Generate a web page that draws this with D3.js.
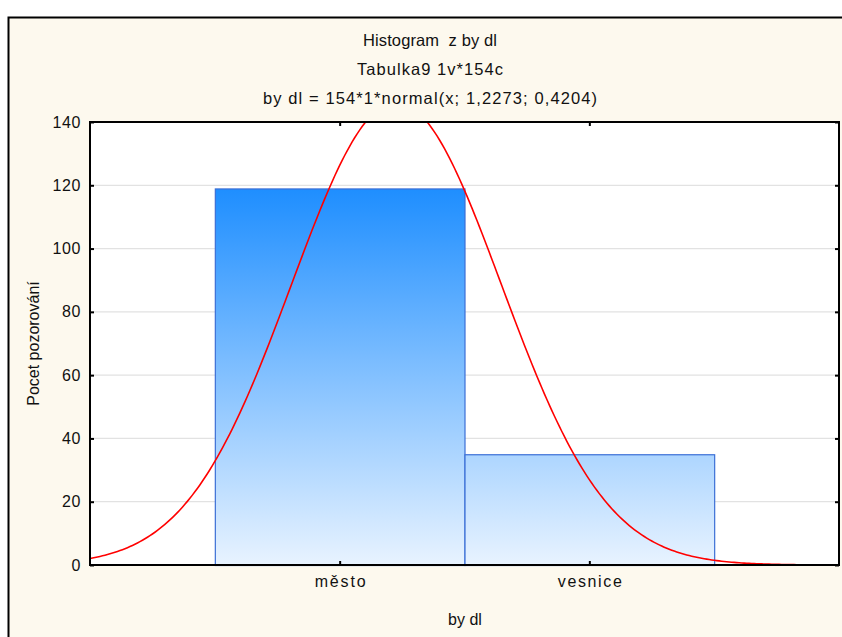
<!DOCTYPE html>
<html>
<head>
<meta charset="utf-8">
<script src="https://cdn.jsdelivr.net/npm/d3@7"></script>
<style>
  html, body { margin: 0; padding: 0; background: #ffffff; }
  svg { display: block; }
  text { font-family: "Liberation Sans", Arial, sans-serif; fill: #111; }
</style>
</head>
<body>
<svg id="chart" width="842" height="637"></svg>
<script>
// ---- data ----
const categories = ["město", "vesnice"];
const categoryPositions = [1, 2];
const counts = [119, 35];
const yTicks = [0, 20, 40, 60, 80, 100, 120, 140];
const titleLines = ["Histogram  z by dl", "Tabulka9 1v*154c", "by dl = 154*1*normal(x; 1,2273; 0,4204)"];
const normalN = 154, normalWidth = 1, normalMean = 1.2273, normalSd = 0.4204;
const xLabel = "by dl";
const yLabel = "Pocet pozorování";

(function () {
const svg = d3.select("#chart");
const W = 842, H = 637;
const m = {left: 90, top: 122, right: 842 - 839, bottom: 637 - 565};
const FONT = "Liberation Sans, Arial, sans-serif";

// background + frame
svg.append("rect").attr("x", 0).attr("y", 0).attr("width", W).attr("height", H).attr("fill", "#ffffff");
svg.append("rect").attr("x", 8.5).attr("y", 17.5).attr("width", W).attr("height", H)
  .attr("fill", "#fdf9ee").attr("stroke", "#000").attr("stroke-width", 2);

const x = d3.scaleLinear().domain([0, 3]).range([m.left, W - m.right]);
const y = d3.scaleLinear().domain([0, 140]).range([H - m.bottom, m.top]);

// plot area
svg.append("rect").attr("x", x(0)).attr("y", y(140)).attr("width", x(3) - x(0)).attr("height", y(0) - y(140))
  .attr("fill", "#ffffff");

// gridlines
svg.append("g").selectAll("line").data(yTicks.filter(d => d > 0 && d < 140)).join("line")
  .attr("x1", x(0)).attr("x2", x(3)).attr("y1", d => y(d)).attr("y2", d => y(d))
  .attr("stroke", "#e2e2e2").attr("stroke-width", 1.2);

// gradient
const defs = svg.append("defs");
const grad = defs.append("linearGradient").attr("id", "barGrad")
  .attr("gradientUnits", "userSpaceOnUse")
  .attr("x1", 0).attr("x2", 0).attr("y1", y(d3.max(counts))).attr("y2", y(0));
grad.append("stop").attr("offset", "0%").attr("stop-color", "#1e8eff");
grad.append("stop").attr("offset", "100%").attr("stop-color", "#e8f3ff");

defs.append("clipPath").attr("id", "plotClip").append("rect")
  .attr("x", x(0)).attr("y", y(140)).attr("width", x(3) - x(0)).attr("height", y(0) - y(140));

// bars
svg.append("g").selectAll("rect").data(counts).join("rect")
  .attr("x", (d, i) => x(categoryPositions[i] - 0.5) + 0.5)
  .attr("y", d => y(d) + 0.5)
  .attr("width", (d, i) => x(categoryPositions[i] + 0.5) - x(categoryPositions[i] - 0.5))
  .attr("height", d => y(0) - y(d))
  .attr("fill", "url(#barGrad)")
  .attr("stroke", "#3b6fd6").attr("stroke-width", 1.2);

// normal curve
const pts = d3.range(0, 3.0001, 0.01).map(v => [v,
  normalN * normalWidth * Math.exp(-0.5 * Math.pow((v - normalMean) / normalSd, 2)) / (normalSd * Math.sqrt(2 * Math.PI))]);
svg.append("path").datum(pts)
  .attr("clip-path", "url(#plotClip)")
  .attr("d", d3.line().x(d => x(d[0])).y(d => y(d[1])))
  .attr("fill", "none").attr("stroke", "#ff0000").attr("stroke-width", 1.6);

// axes (all ticks point inward)
const gLeft = svg.append("g").attr("transform", `translate(${x(0)},0)`)
  .call(d3.axisLeft(y).tickValues(yTicks).tickSize(-4).tickPadding(9));
const gRight = svg.append("g").attr("transform", `translate(${x(3)},0)`)
  .call(d3.axisLeft(y).tickValues(yTicks).tickSize(4).tickFormat(""));
const gBottom = svg.append("g").attr("transform", `translate(0,${y(0)})`)
  .call(d3.axisBottom(x).tickValues(categoryPositions).tickSize(-4).tickPadding(11)
    .tickFormat((d, i) => categories[i]));
const gTop = svg.append("g").attr("transform", `translate(0,${y(140)})`)
  .call(d3.axisBottom(x).tickValues(categoryPositions).tickSize(4).tickFormat(""));

[gLeft, gRight, gBottom, gTop].forEach(g => {
  g.selectAll(".domain").remove();
  g.selectAll(".tick line").attr("stroke", "#000").attr("stroke-width", 2);
  g.selectAll("text").attr("font-size", 16).attr("fill", "#111").attr("font-family", FONT);
});
gLeft.selectAll("text").attr("letter-spacing", 0.6);
const catLengths = [51, 64];
gBottom.selectAll("text").attr("textLength", (d, i) => catLengths[i]).attr("lengthAdjust", "spacing");

// frame
svg.append("rect").attr("x", x(0)).attr("y", y(140)).attr("width", x(3) - x(0)).attr("height", y(0) - y(140))
  .attr("fill", "none").attr("stroke", "#000").attr("stroke-width", 2);

// titles
const titleLengths = [134, 146, 334];
const titleBaselines = [46, 74.5, 103.5];
titleLines.forEach((t, i) => {
  svg.append("text").attr("x", 430).attr("y", titleBaselines[i]).attr("text-anchor", "middle")
    .attr("font-size", 16.5).attr("textLength", titleLengths[i]).attr("lengthAdjust", "spacing")
    .attr("xml:space", "preserve").style("white-space", "pre").text(t);
});

svg.append("text").attr("x", 465).attr("y", 625).attr("text-anchor", "middle")
  .attr("font-size", 16).text(xLabel);
svg.append("text").attr("transform", `translate(39,${(y(0) + y(140)) / 2}) rotate(-90)`)
  .attr("text-anchor", "middle").attr("font-size", 16).text(yLabel);
})();
</script>
</body>
</html>
